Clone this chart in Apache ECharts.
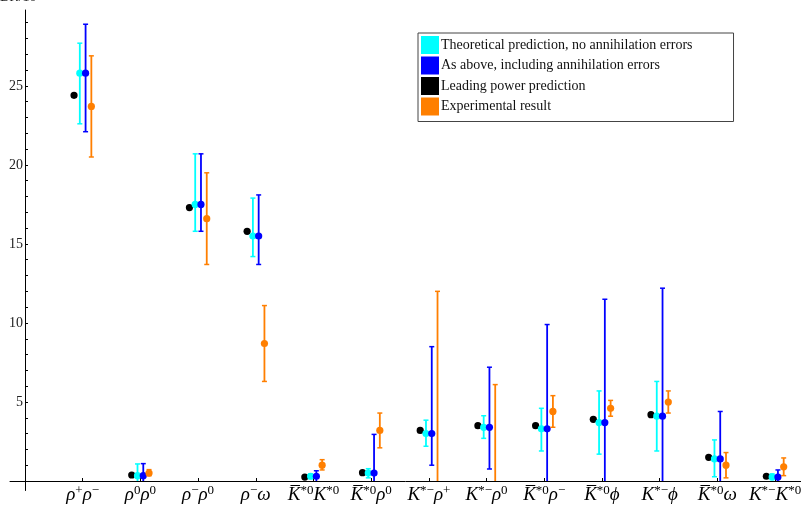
<!DOCTYPE html>
<html><head><meta charset="utf-8">
<script src="https://cdn.jsdelivr.net/npm/echarts@6/dist/echarts.min.js"></script>
<style>html,body{margin:0;padding:0;background:#fff}#c{width:801px;height:508px}</style>
</head><body><div id="c"></div>
<script>
const categories = ['ρ+ρ−','ρ0ρ0','ρ−ρ0','ρ−ω','K̄*0K*0','K̄*0ρ0','K*−ρ+','K*−ρ0','K̄*0ρ−','K̄*0ϕ','K*−ϕ','K̄*0ω','K*−K*0'];
const catLabels = [
  '{m|ρ}{s|+}{m|ρ}{s|−}',
  '{m|ρ}{s|0}{m|ρ}{s|0}',
  '{m|ρ}{s|−}{m|ρ}{s|0}',
  '{m|ρ}{s|−}{m|ω}',
  '{m|K\u0305}{s|*0}{m|K}{s|*0}',
  '{m|K\u0305}{s|*0}{m|ρ}{s|0}',
  '{m|K}{s|*−}{m|ρ}{s|+}',
  '{m|K}{s|*−}{m|ρ}{s|0}',
  '{m|K\u0305}{s|*0}{m|ρ}{s|−}',
  '{m|K\u0305}{s|*0}{m|\u03D5}',
  '{m|K}{s|*−}{m|\u03D5}',
  '{m|K\u0305}{s|*0}{m|ω}',
  '{m|K}{s|*−}{m|K}{s|*0}'
];
const yTickLabels = [5, 10, 15, 20, 25];

const leading     = [24.4, 0.38, 17.3, 15.8, 0.25, 0.53, 3.2, 3.5, 3.5, 3.9, 4.2, 1.5, 0.3];
const noAnn       = [25.8, 0.34, 17.5, 15.5, 0.3, 0.5, 3.0, 3.4, 3.3, 3.7, 4.1, 1.4, 0.25];
const noAnnLow    = [22.6, 0, 15.8, 14.2, 0.15, 0.2, 2.2, 2.7, 1.9, 1.7, 1.9, 0.27, 0.1];
const noAnnHigh   = [27.7, 1.08, 20.7, 17.9, 0.45, 0.78, 3.85, 4.13, 4.6, 5.7, 6.3, 2.6, 0.45];
const withAnn     = [25.8, 0.34, 17.5, 15.5, 0.3, 0.5, 3.0, 3.4, 3.3, 3.7, 4.1, 1.4, 0.25];
const withAnnLow  = [22.1, 0, 15.8, 13.7, 0, 0, 1.0, 0.76, 0, 0, 0, 0, 0];
const withAnnHigh = [28.9, 1.1, 20.7, 18.1, 0.65, 2.95, 8.5, 7.2, 9.9, 11.5, 12.2, 4.4, 0.7];
const expt        = [23.7, 0.5, 16.6, 8.7, 1.0, 3.2, null, null, 4.4, 4.6, 5.0, 1.0, 0.9];
const exptLow     = [20.5, 0.33, 13.7, 6.3, 0.7, 2.1, 0, 0, 3.4, 4.1, 4.3, 0.2, 0.34];
const exptHigh    = [26.9, 0.72, 19.5, 11.1, 1.35, 4.3, 12.0, 6.1, 5.4, 5.1, 5.7, 1.8, 1.46];

const names = ['Theoretical prediction, no annihilation errors','As above, including annihilation errors','Leading power prediction','Experimental result'];

function makeSeries(name, color, center, low, high, offset) {
  const data = categories.map((c, i) => [i + 1 + offset, center[i] == null ? NaN : center[i],
    low ? low[i] : NaN, high ? high[i] : NaN]);
  return {
    type: 'custom', name: name, data: data,
    itemStyle: { color: color },
    encode: { x: 0, y: 1 },
    renderItem: function (params, api) {
      const x = api.value(0), c = api.value(1), lo = api.value(2), hi = api.value(3);
      const children = [];
      if (!isNaN(hi)) {
        const pHi = api.coord([x, hi]);
        const pLo = api.coord([x, isNaN(lo) ? 0 : lo]);
        children.push({ type: 'line', shape: { x1: pHi[0], y1: pHi[1], x2: pLo[0], y2: pLo[1] },
          style: { stroke: color, lineWidth: 1.8 } });
        children.push({ type: 'line', shape: { x1: pHi[0] - 2.5, y1: pHi[1], x2: pHi[0] + 2.5, y2: pHi[1] },
          style: { stroke: color, lineWidth: 1.5 } });
        if (lo > 0) {
          children.push({ type: 'line', shape: { x1: pLo[0] - 2.5, y1: pLo[1], x2: pLo[0] + 2.5, y2: pLo[1] },
            style: { stroke: color, lineWidth: 1.5 } });
        }
      }
      if (!isNaN(c)) {
        const p = api.coord([x, c]);
        children.push({ type: 'circle', shape: { cx: p[0], cy: p[1], r: 3.6 }, style: { fill: color } });
      }
      return { type: 'group', children: children };
    }
  };
}

const chart = echarts.init(document.getElementById('c'), null, { renderer: 'canvas' });
const serif = 'Liberation Serif, Times New Roman, serif';
chart.setOption({
  animation: false,
  backgroundColor: '#fff',
  grid: { left: 10, right: 0, top: 10, bottom: 17.5, containLabel: false, outerBoundsMode: 'none' },
  xAxis: {
    type: 'value', min: -0.26, max: 13.45,
    splitLine: { show: false },
    axisLine: { show: true, onZero: true, lineStyle: { color: '#000', width: 1 } },
    axisTick: { show: true, inside: true, length: 3, customValues: categories.map((c, i) => i + 1), lineStyle: { color: '#000' } },
    axisLabel: {
      show: true, margin: -6.5, customValues: categories.map((c, i) => i + 1),
      formatter: function (v) { return catLabels[Math.round(v) - 1] || ''; },
      rich: {
        m: { fontFamily: serif, fontStyle: 'italic', fontSize: 19, color: '#000', lineHeight: 22 },
        s: { fontFamily: serif, fontSize: 13, color: '#000', lineHeight: 12, verticalAlign: 'top' }
      }
    }
  },
  yAxis: {
    type: 'value', min: -0.6, max: 29.8,
    splitLine: { show: false },
    axisLine: { show: true, onZero: true, lineStyle: { color: '#000', width: 1 } },
    axisTick: { show: true, inside: true, length: 3, customValues: Array.from({ length: 29 }, (v, i) => i + 1), lineStyle: { color: '#000' } },
    axisLabel: { show: true, margin: -13, customValues: yTickLabels, fontFamily: serif, fontSize: 14, color: '#222' }
  },
  legend: {
    orient: 'vertical', left: 418, top: 33,
    itemWidth: 18, itemHeight: 18, itemGap: 2.5,
    padding: [3, 41, 6, 3],
    borderColor: '#444', borderWidth: 1,
    icon: 'rect',
    textStyle: { fontFamily: serif, fontSize: 14, color: '#111', padding: [0, 0, 0, -3] },
    data: names
  },
  graphic: [
    { type: 'text', left: 0, top: -10, style: { text: 'BR/10\u207B\u2076', font: '14px ' + serif, fill: '#222' } }
  ],
  series: [
    makeSeries(names[2], '#000000', leading, null, null, -0.15),
    makeSeries(names[0], '#00FFFF', noAnn, noAnnLow, noAnnHigh, -0.05),
    makeSeries(names[1], '#0000FF', withAnn, withAnnLow, withAnnHigh, 0.05),
    makeSeries(names[3], '#FF7F00', expt, exptLow, exptHigh, 0.15)
  ]
});
</script></body></html>
